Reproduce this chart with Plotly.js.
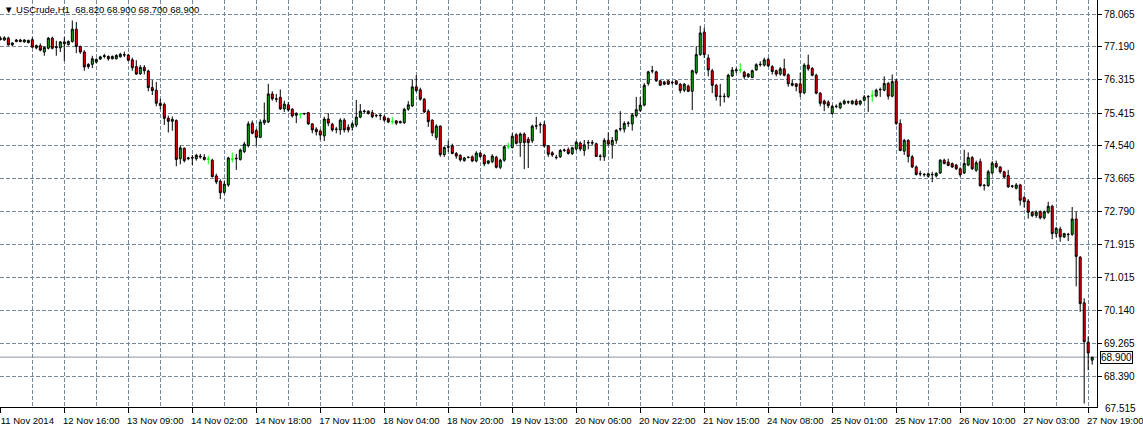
<!DOCTYPE html>
<html><head><meta charset="utf-8">
<script src="https://cdn.plot.ly/plotly-3.0.1.min.js"></script>
<style>html,body{margin:0;padding:0;background:#fff;overflow:hidden}#chart{width:1143px;height:433px}</style>
</head><body><div id="chart"></div>
<script>
const symbol = 'USCrude,H1';
const opens = [
77.42,77.37,77.42,77.24,77.33,77.37,77.32,77.30,77.38,77.16,77.22,77.05,
77.15,77.42,77.17,77.16,77.32,77.25,77.33,77.66,77.20,77.05,76.66,76.72,
76.78,76.86,76.93,76.93,76.87,76.87,76.92,76.98,76.97,76.84,76.66,76.47,
76.64,76.54,76.10,76.03,75.68,75.65,75.28,75.20,75.22,74.20,74.48,74.20,
74.23,74.20,74.27,74.24,74.19,74.16,73.74,73.60,73.30,73.50,74.19,74.21,
74.18,74.39,74.55,75.15,74.95,74.77,75.16,75.18,75.93,75.80,75.84,75.53,
75.64,75.52,75.36,75.39,75.41,75.43,75.13,74.99,74.94,74.81,75.26,75.12,
74.98,74.97,75.23,75.04,75.04,75.10,75.31,75.46,75.47,75.43,75.36,75.36,
75.32,75.27,75.19,75.21,75.16,75.16,75.52,75.61,76.12,76.04,75.79,75.47,
75.23,74.77,75.07,74.31,74.52,74.54,74.34,74.29,74.15,74.23,74.25,74.14,
74.35,74.29,74.08,74.12,74.24,73.97,74.16,74.52,74.50,74.84,74.63,74.86,
74.72,74.68,75.07,75.10,75.11,74.54,74.36,74.24,74.25,74.42,74.44,74.34,
74.46,74.62,74.42,74.62,74.63,74.60,74.26,74.25,74.69,74.57,74.69,74.99,
74.99,75.14,75.13,75.35,75.49,75.63,76.21,76.54,76.52,76.28,76.25,76.28,
76.24,76.28,76.19,76.03,76.14,76.00,76.50,76.98,77.58,76.89,76.55,76.16,
75.86,75.87,75.86,76.41,76.55,76.57,76.51,76.39,76.37,76.57,76.71,76.70,
76.85,76.66,76.55,76.46,76.60,76.44,76.21,76.20,76.20,75.96,76.70,76.61,
76.43,75.95,75.74,75.71,75.41,75.59,75.56,75.67,75.71,75.67,75.74,75.66,
75.76,75.85,75.88,75.88,76.04,76.03,76.21,75.87,76.28,75.14,74.40,74.69,
74.25,73.98,73.79,73.77,73.73,73.77,73.74,73.82,74.16,74.11,74.07,74.03,
73.93,73.82,74.03,74.23,73.89,74.12,73.48,73.48,73.82,74.07,73.98,73.85,
73.75,73.46,73.41,73.50,73.16,73.07,72.77,72.68,72.78,72.62,72.77,72.93,
72.20,72.32,72.11,72.17,72.18,72.59,71.57,70.35,69.30,68.82];
const highs = [
77.47,77.47,77.46,77.31,77.40,77.40,77.39,77.38,77.44,77.25,77.28,77.20,
77.45,77.46,77.35,77.34,77.45,77.36,77.89,77.85,77.22,77.10,76.75,76.95,
76.88,76.95,77.00,76.96,76.96,76.99,77.03,77.06,77.00,76.90,76.83,76.70,
76.70,76.58,76.30,76.25,75.80,75.70,75.35,75.33,75.25,74.55,74.50,74.25,
74.30,74.33,74.33,74.32,74.28,74.20,73.80,73.65,73.60,74.25,74.36,74.33,
74.47,74.65,75.20,75.22,75.00,75.25,75.70,76.20,76.00,75.93,76.05,75.75,
75.72,75.55,75.44,75.40,75.42,75.45,75.15,75.04,74.98,75.32,75.42,75.16,
75.05,75.28,75.28,75.12,75.18,75.77,75.66,75.51,75.49,75.50,75.39,75.40,
75.36,75.30,75.31,75.23,75.22,75.56,75.74,76.32,76.43,76.10,75.82,75.52,
75.25,75.12,75.09,74.53,74.68,74.60,74.38,74.32,74.25,74.26,74.29,74.40,
74.38,74.33,74.16,74.32,74.28,74.20,74.56,74.63,74.88,74.88,74.90,74.90,
74.78,75.11,75.32,75.17,75.20,74.56,74.40,74.30,74.46,74.47,74.50,74.52,
74.68,74.66,74.70,74.70,74.70,74.63,74.32,74.75,74.90,74.78,74.99,75.47,
75.20,75.20,75.42,75.85,75.85,76.22,76.55,76.68,76.55,76.30,76.28,76.30,
76.28,76.30,76.22,76.22,76.18,76.58,77.20,77.75,77.70,76.99,76.60,76.20,
76.20,75.95,76.47,76.65,76.63,76.75,76.55,76.49,76.58,76.75,76.80,76.90,
76.90,76.70,76.58,76.65,76.87,76.48,76.32,76.22,76.50,76.75,76.98,76.65,
76.47,75.98,75.78,75.76,75.64,75.65,75.72,75.78,75.75,75.77,75.80,75.77,
75.90,75.90,76.03,76.07,76.10,76.40,76.25,76.45,76.33,75.25,74.73,74.72,
74.30,74.02,73.88,73.82,73.83,73.85,73.84,74.19,74.20,74.20,74.10,74.06,
73.97,74.44,74.37,74.27,74.15,74.20,73.52,73.90,74.14,74.15,74.00,73.88,
73.90,73.50,73.55,73.53,73.20,73.12,72.80,72.82,72.82,72.82,73.05,72.97,
72.38,72.38,72.22,72.22,72.91,72.79,71.60,70.47,69.45,68.90];
const lows = [
77.36,77.35,77.22,77.21,77.31,77.31,77.30,77.28,77.15,77.12,77.07,76.95,
77.12,77.12,76.95,77.05,76.81,77.22,77.30,77.02,77.00,76.55,76.60,76.62,
76.75,76.84,76.88,76.82,76.85,76.85,76.90,76.91,76.80,76.55,76.44,76.44,
76.45,76.00,75.90,75.60,75.52,75.10,74.90,74.95,74.00,74.05,74.10,74.16,
74.03,74.15,74.20,74.15,74.05,73.70,73.52,73.12,73.25,73.45,74.10,73.90,
74.15,74.35,74.50,74.85,74.55,74.75,75.10,75.15,75.75,75.71,75.50,75.45,
75.46,75.30,75.15,75.28,75.37,75.10,74.88,74.82,74.71,74.67,75.07,74.92,
74.88,74.84,74.90,74.90,74.95,75.04,75.28,75.40,75.38,75.28,75.30,75.23,
75.19,75.15,75.12,75.10,75.14,75.13,75.48,75.58,75.98,75.75,75.42,75.05,
74.80,74.70,74.25,74.25,74.38,74.32,74.20,74.12,74.12,74.21,74.11,74.10,
74.22,74.00,74.05,74.08,73.94,73.92,74.12,74.45,74.47,74.58,74.25,73.92,
73.95,74.62,74.98,74.88,74.50,74.25,74.25,74.18,74.22,74.38,74.31,74.30,
74.42,74.40,74.28,74.45,74.55,74.25,74.15,74.14,74.55,74.20,74.60,74.93,
74.90,75.05,74.95,75.30,75.45,75.60,76.15,76.48,76.25,76.14,76.16,76.17,
76.18,76.18,75.95,75.98,75.98,75.50,76.45,76.95,76.89,76.40,75.95,75.75,
75.60,75.70,75.82,76.38,76.48,76.48,76.33,76.36,76.35,76.55,76.66,76.66,
76.65,76.45,76.40,76.42,76.40,76.12,76.13,76.00,75.85,75.92,76.55,76.40,
75.92,75.60,75.47,75.55,75.38,75.55,75.52,75.64,75.66,75.64,75.62,75.62,
75.73,75.45,75.72,75.84,75.85,76.00,75.78,75.84,75.10,74.40,74.30,74.10,
73.95,73.75,73.73,73.72,73.70,73.57,73.70,73.79,74.05,74.00,73.95,73.90,
73.72,73.79,74.00,73.90,73.85,73.45,73.35,73.45,73.78,73.94,73.80,73.68,
73.42,73.42,73.38,72.95,72.90,72.60,72.64,72.62,72.58,72.58,72.73,72.05,
72.10,71.98,72.08,72.00,72.14,70.79,70.11,67.66,68.55,68.70];
const closes = [
77.38,77.43,77.24,77.29,77.37,77.33,77.37,77.36,77.18,77.22,77.10,77.17,
77.42,77.15,77.18,77.32,77.27,77.33,77.66,77.20,77.05,76.65,76.72,76.87,
76.85,76.92,76.95,76.87,76.93,76.96,76.99,76.97,76.83,76.63,76.46,76.64,
76.55,76.10,76.02,75.68,75.62,75.28,75.20,75.25,74.18,74.49,74.15,74.22,
74.22,74.29,74.25,74.18,74.19,73.72,73.58,73.29,73.52,74.22,74.19,74.20,
74.43,74.59,75.13,74.88,74.77,75.18,75.23,75.93,75.80,75.79,75.53,75.66,
75.50,75.34,75.41,75.39,75.40,75.13,74.97,74.92,74.83,75.26,75.15,74.97,
74.99,75.23,74.97,74.97,75.13,75.31,75.47,75.47,75.41,75.32,75.35,75.35,
75.23,75.18,75.19,75.15,75.19,75.52,75.64,76.12,76.02,75.79,75.45,75.19,
74.89,75.07,74.31,74.50,74.51,74.34,74.27,74.17,74.22,74.24,74.14,74.35,
74.26,74.06,74.14,74.27,73.97,74.16,74.52,74.52,74.80,74.61,74.86,74.63,
74.63,75.07,75.08,75.11,74.54,74.32,74.30,74.23,74.42,74.43,74.34,74.49,
74.64,74.46,74.57,74.63,74.62,74.26,74.27,74.69,74.59,74.69,74.96,75.00,
75.14,75.15,75.37,75.51,75.63,76.16,76.52,76.55,76.28,76.16,76.19,76.19,
76.23,76.19,76.02,76.19,76.00,76.55,76.98,77.56,76.98,76.57,76.16,75.86,
75.87,75.86,76.43,76.57,76.57,76.57,76.39,76.46,76.55,76.71,76.72,76.84,
76.68,76.53,76.46,76.60,76.43,76.20,76.16,76.13,75.96,76.70,76.60,76.43,
75.95,75.68,75.66,75.62,75.60,75.60,75.68,75.74,75.72,75.74,75.65,75.74,
75.85,75.86,75.88,76.03,76.05,76.21,75.87,76.26,75.14,74.42,74.69,74.26,
73.98,73.78,73.80,73.78,73.80,73.78,73.81,74.16,74.07,74.02,73.98,73.93,
73.77,74.07,74.23,73.93,74.09,73.48,73.49,73.85,74.08,73.98,73.85,73.71,
73.45,73.47,73.50,73.09,73.05,72.77,72.68,72.77,72.62,72.78,72.93,72.20,
72.34,72.11,72.20,72.18,72.59,71.59,70.33,69.31,69.01,68.90];

const dateTickBars = [0,16,32,48,64,80,96,112,128,144,160,176,192,208,224,240,256,272];
const dateTickLabels = ['11 Nov 2014','12 Nov 16:00','13 Nov 09:00','14 Nov 02:00','14 Nov 18:00',
  '17 Nov 11:00','18 Nov 04:00','18 Nov 20:00','19 Nov 13:00','20 Nov 06:00','20 Nov 22:00',
  '21 Nov 15:00','24 Nov 08:00','25 Nov 01:00','25 Nov 17:00','26 Nov 10:00','27 Nov 03:00','27 Nov 19:00'];
const priceTicks = [67.515,68.390,69.265,70.140,71.015,71.915,72.790,73.665,74.540,75.415,76.315,77.190,78.065];
const lastPrice = 68.900;

const GRID = '#778899';
const FAM = 'Liberation Sans, Arial, sans-serif';
const FONT = {family: FAM, size:10, color:'#000'};
const XFONT = {family: FAM, size:9.5, color:'#000'};
const Y0 = 67.568, Y1 = 78.439;
const idx = opens.map((_, i) => i);
const doji = idx.filter(i => opens[i] === closes[i]);
const body = idx.filter(i => opens[i] !== closes[i]);
const pick = (a, ids) => ids.map(i => a[i]);
const last = opens.length - 1;

const traces = [
  {type:'candlestick', x: body, open: pick(opens, body), high: pick(highs, body), low: pick(lows, body), close: pick(closes, body),
   increasing:{line:{color:'#000', width:1}, fillcolor:'#22B422'},
   decreasing:{line:{color:'#000', width:1}, fillcolor:'#FF0000'},
   whiskerwidth:0, hoverinfo:'skip', showlegend:false},
  {type:'candlestick', x: doji, open: pick(opens, doji), high: pick(highs, doji), low: pick(lows, doji), close: pick(closes, doji),
   increasing:{line:{color:'#00FF00', width:1}, fillcolor:'#00FF00'},
   decreasing:{line:{color:'#00FF00', width:1}, fillcolor:'#00FF00'},
   whiskerwidth:0, hoverinfo:'skip', showlegend:false}
];

const header = '\u25BC ' + symbol + '\u00a0\u00a0' + [opens[last], highs[last], lows[last], closes[last]].map(v => v.toFixed(3)).join(' ');

const outside = priceTicks.filter(v => v < Y0 || v > Y1);
const outsideAnn = outside.map(v => ({xref:'paper', yref:'paper', x:1, y:(v - Y0) / (Y1 - Y0),
  xanchor:'left', yanchor:'middle', xshift:6, text: v.toFixed(3), showarrow:false, font: FONT}));

const layout = {
  width:1143, height:433,
  margin:{l:0, r:46, t:0, b:26, pad:0},
  paper_bgcolor:'#fff', plot_bgcolor:'#fff',
  font: FONT,
  showlegend:false,
  xaxis:{
    range:[-0.08, 274.2], rangeslider:{visible:false}, fixedrange:true,
    tickmode:'array', tickvals: dateTickBars, ticktext: dateTickLabels,
    ticks:'outside', ticklen:5, tickcolor:'#000', tickfont: XFONT, ticklabelshift: 27,
    ticklabeloverflow:'allow',
    showgrid:true, gridcolor: GRID, griddash:'4px,2px', gridwidth:1,
    minor:{tickmode:'linear', tick0:0, dtick:8, showgrid:true, gridcolor:GRID, griddash:'4px,2px', ticklen:0},
    showline:true, linecolor:'#000', linewidth:1, zeroline:false
  },
  yaxis:{
    side:'right', range:[Y0, Y1], fixedrange:true,
    tickmode:'array', tickvals: priceTicks, tickformat:'.3f',
    ticks:'outside', ticklen:4, tickcolor:'#000', tickfont: FONT,
    ticklabeloverflow:'allow',
    showgrid:true, gridcolor: GRID, griddash:'4px,2px', gridwidth:1,
    showline:true, linecolor:'#000', linewidth:1, zeroline:false
  },
  shapes:[
    {type:'line', xref:'paper', x0:0, x1:1, yref:'y', y0:lastPrice, y1:lastPrice, line:{color:'#8a97a5', width:1}, layer:'below'}
  ],
  annotations:[
    {xref:'paper', yref:'paper', x:0, y:1, xanchor:'left', yanchor:'top', xshift:2, yshift:-2,
     text: header, showarrow:false, font: XFONT},
    {xref:'paper', yref:'y', x:1, y:lastPrice, xanchor:'left', yanchor:'middle', xshift:3,
     text: lastPrice.toFixed(3), showarrow:false, font: FONT,
     bgcolor:'#fff', bordercolor:'#000', borderwidth:1, borderpad:0}
  ].concat(outsideAnn)
};

Plotly.newPlot('chart', traces, layout, {staticPlot:true, displayModeBar:false});
</script>
</body></html>
